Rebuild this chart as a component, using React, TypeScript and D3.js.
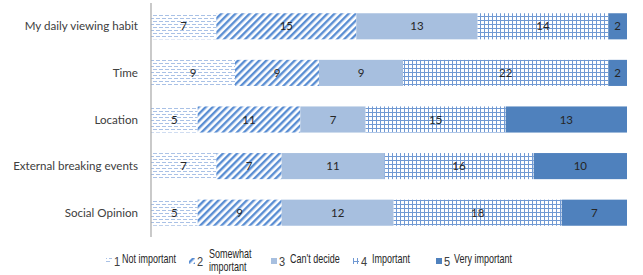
import { useEffect, useRef } from 'react';
import * as d3 from 'd3';

const categories = ['My daily viewing habit', 'Time', 'Location', 'External breaking events', 'Social Opinion'];
const seriesKeys = ['1', '2', '3', '4', '5'];
const seriesNames = ['Not important', 'Somewhat important', "Can't decide", 'Important', 'Very important'];
const notImportant = [7, 9, 5, 7, 5];
const somewhatImportant = [15, 9, 11, 7, 9];
const cantDecide = [13, 9, 7, 11, 12];
const important = [14, 22, 15, 16, 18];
const veryImportant = [2, 2, 13, 10, 7];

const App = () => {
  const chartRef = useRef<SVGSVGElement>(null);

  useEffect(() => {
    const width = 643,
      height = 275;
    const margin = { top: 3, left: 151, right: 16 };
    const plotW = width - margin.left - margin.right;

    const svg = d3.select(chartRef.current);
    svg.selectAll('*').remove();
    svg.attr('width', width).attr('height', height);

    // build rows
    const values = [notImportant, somewhatImportant, cantDecide, important, veryImportant];
    const data = categories.map((c, i) => {
      const row: any = { category: c };
      seriesKeys.forEach((k, j) => (row[k] = values[j][i]));
      return row;
    });
    const stacked = d3.stack().keys(seriesKeys)(data);
    const total = d3.max(data, (d: any) => d3.sum(seriesKeys, (k) => d[k])) as number;

    const x = d3.scaleLinear().domain([0, total]).range([margin.left, margin.left + plotW]);
    const y = d3.scaleBand().domain(categories).range([margin.top, 236]).paddingInner(0.44).paddingOuter(0.22);

    // patterns
    const defs = svg.append('defs');
    const p1 = defs
      .append('pattern')
      .attr('id', 'p1')
      .attr('width', 6)
      .attr('height', 6)
      .attr('patternUnits', 'userSpaceOnUse');
    p1.append('rect').attr('width', 6).attr('height', 6).attr('fill', '#ffffff');
    p1.append('rect').attr('x', 0).attr('y', 0).attr('width', 4).attr('height', 1).attr('fill', '#a9c1e6');
    p1.append('rect').attr('x', 3).attr('y', 3).attr('width', 4).attr('height', 1).attr('fill', '#a9c1e6');
    p1.append('rect').attr('x', -3).attr('y', 3).attr('width', 4).attr('height', 1).attr('fill', '#a9c1e6');

    const p2 = defs
      .append('pattern')
      .attr('id', 'p2')
      .attr('width', 5)
      .attr('height', 5)
      .attr('patternUnits', 'userSpaceOnUse')
      .attr('patternTransform', 'rotate(45)');
    p2.append('rect').attr('width', 5).attr('height', 5).attr('fill', '#ffffff');
    p2.append('rect').attr('width', 2.4).attr('height', 5).attr('fill', '#5a8ed3');

    const p4 = defs
      .append('pattern')
      .attr('id', 'p4')
      .attr('width', 4)
      .attr('height', 4)
      .attr('patternUnits', 'userSpaceOnUse');
    p4.append('rect').attr('width', 4).attr('height', 4).attr('fill', '#ffffff');
    p4.append('rect').attr('width', 1).attr('height', 4).attr('fill', '#7099d3');
    p4.append('rect').attr('width', 4).attr('height', 1).attr('fill', '#7099d3');

    const fills = ['url(#p1)', 'url(#p2)', '#a7bfdf', 'url(#p4)', '#4f81bd'];

    // bars
    const layers = svg
      .selectAll('g.layer')
      .data(stacked)
      .enter()
      .append('g')
      .attr('class', 'layer')
      .attr('fill', (d, i) => fills[i]);

    layers
      .selectAll('rect')
      .data((d) => d)
      .enter()
      .append('rect')
      .attr('x', (d) => x(d[0]))
      .attr('y', (d: any) => y(d.data.category) as number)
      .attr('width', (d) => x(d[1]) - x(d[0]))
      .attr('height', y.bandwidth());

    // value labels
    layers
      .selectAll('text')
      .data((d) => d)
      .enter()
      .append('text')
      .attr('x', (d) => (x(d[0]) + x(d[1])) / 2)
      .attr('y', (d: any) => (y(d.data.category) as number) + y.bandwidth() / 2)
      .attr('dy', '0.35em')
      .attr('text-anchor', 'middle')
      .attr('fill', '#262626')
      .style('font-family', 'Lato, "Open Sans", sans-serif')
      .style('font-size', '11.5px')
      .text((d) => d[1] - d[0]);

    // y axis line and labels
    svg
      .append('line')
      .attr('x1', margin.left)
      .attr('x2', margin.left)
      .attr('y1', margin.top)
      .attr('y2', 237)
      .attr('stroke', '#a6a6a6')
      .attr('stroke-width', 1.2);

    svg
      .append('g')
      .selectAll('text')
      .data(categories)
      .enter()
      .append('text')
      .attr('x', 138)
      .attr('y', (d) => (y(d) as number) + y.bandwidth() / 2)
      .attr('dy', '0.35em')
      .attr('text-anchor', 'end')
      .attr('fill', '#404040')
      .style('font-family', 'Lato, "Open Sans", sans-serif')
      .style('font-size', '11.6px')
      .text((d) => d);

    // legend (narrow font imitated with a horizontal squeeze)
    const legendX = [106, 189, 271, 353, 436];
    const legendFont = '"Liberation Sans", Arial, sans-serif';
    const squeeze = 0.75;
    const legend = svg
      .append('g')
      .selectAll('g')
      .data(seriesKeys)
      .enter()
      .append('g')
      .attr('transform', (d, i) => `translate(${legendX[i]},261)`);
    legend
      .append('rect')
      .attr('x', 0)
      .attr('y', -3)
      .attr('width', 6)
      .attr('height', 6)
      .attr('fill', (d, i) => fills[i]);
    legend
      .append('text')
      .attr('transform', `translate(8,5) scale(0.85,1)`)
      .attr('fill', '#404040')
      .style('font-family', legendFont)
      .style('font-size', '13px')
      .text((d) => d);
    legend.each(function (d, i) {
      const words = seriesNames[i] === 'Somewhat important' ? ['Somewhat', 'important'] : [seriesNames[i]];
      const offs = [16, 20, 19, 19, 18];
      const t = d3
        .select(this)
        .append('text')
        .attr('transform', `translate(${offs[i]},0) scale(${squeeze},1)`)
        .attr('fill', '#262626')
        .style('font-family', legendFont)
        .style('font-size', '12px');
      if (words.length === 1) {
        t.append('tspan').attr('x', 0).attr('y', 2).text(words[0]);
      } else {
        t.append('tspan').attr('x', 0).attr('y', -3).text(words[0]);
        t.append('tspan').attr('x', 0).attr('y', 10).text(words[1]);
      }
    });

    return () => {
      d3.select(chartRef.current).selectAll('*').remove();
    };
  }, []);

  return (
    <div style={{ position: 'absolute', left: 0, top: 0 }}>
      <svg ref={chartRef}></svg>
    </div>
  );
};

export default App;
